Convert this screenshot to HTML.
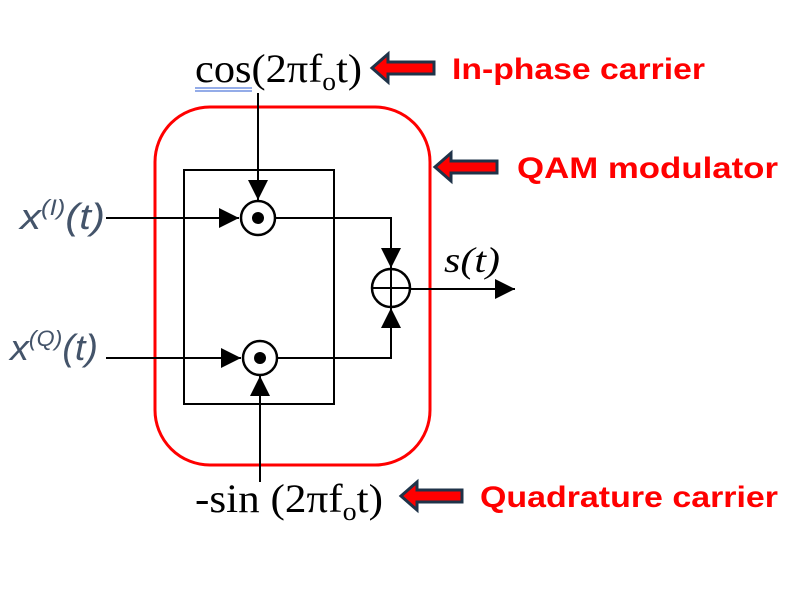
<!DOCTYPE html>
<html><head><meta charset="utf-8"><style>
html,body{margin:0;padding:0;background:#fff;}
svg{display:block;}
</style></head><body>
<svg width="811" height="614" viewBox="0 0 811 614" xmlns="http://www.w3.org/2000/svg">
<defs>
<marker id="ah" viewBox="0 0 10 10" refX="10" refY="5" markerWidth="20" markerHeight="20" markerUnits="userSpaceOnUse" orient="auto"><path d="M0,0 L10,5 L0,10 Z" fill="#000"/></marker>
</defs>
<rect x="155" y="107" width="275" height="358" rx="55" fill="none" stroke="#ff0000" stroke-width="3"/>
<rect x="184" y="170" width="150" height="234" fill="none" stroke="#000" stroke-width="2"/>
<line x1="106" y1="218" x2="239" y2="218" stroke="#000" stroke-width="2" marker-end="url(#ah)"/>
<line x1="106" y1="358" x2="241" y2="358" stroke="#000" stroke-width="2" marker-end="url(#ah)"/>
<line x1="258" y1="93" x2="258" y2="200" stroke="#000" stroke-width="2" marker-end="url(#ah)"/>
<line x1="260" y1="482" x2="260" y2="376" stroke="#000" stroke-width="2" marker-end="url(#ah)"/>
<polyline points="275,218 391,218 391,268" fill="none" stroke="#000" stroke-width="2" marker-end="url(#ah)"/>
<polyline points="277,358 391,358 391,308" fill="none" stroke="#000" stroke-width="2" marker-end="url(#ah)"/>
<line x1="410" y1="289" x2="515" y2="289" stroke="#000" stroke-width="2" marker-end="url(#ah)"/>
<circle cx="258" cy="218" r="17" fill="#fff" stroke="#000" stroke-width="2.5"/>
<circle cx="258" cy="218" r="6" fill="#000"/>
<circle cx="260" cy="358" r="17" fill="#fff" stroke="#000" stroke-width="2.5"/>
<circle cx="260" cy="358" r="6" fill="#000"/>
<circle cx="391" cy="288" r="19" fill="#fff" stroke="#000" stroke-width="2.5"/>
<line x1="372" y1="288" x2="410" y2="288" stroke="#000" stroke-width="2"/>
<line x1="391" y1="269" x2="391" y2="307" stroke="#000" stroke-width="2"/>
<g fill="#ff0000" stroke="#1f3349" stroke-width="3">
<path d="M372,68 L388,54 L388,62 L434,62 L434,74 L388,74 L388,82 Z"/>
<path d="M435,167 L451,153 L451,161 L497,161 L497,173 L451,173 L451,181 Z"/>
<path d="M401,496 L417,482 L417,490 L462,490 L462,502 L417,502 L417,510 Z"/>
</g>
<g font-family="Liberation Serif, serif" font-size="40" fill="#000">
<text x="195" y="82" textLength="167" lengthAdjust="spacingAndGlyphs">cos(2πf<tspan font-size="26" dy="8">o</tspan><tspan dy="-8">t)</tspan></text>
<text x="195" y="512" textLength="188" lengthAdjust="spacingAndGlyphs">-sin (2πf<tspan font-size="26" dy="8">o</tspan><tspan dy="-8">t)</tspan></text>
<text x="444" y="272" font-style="italic" font-size="36" textLength="56" lengthAdjust="spacingAndGlyphs">s(t)</text>
</g>
<line x1="195" y1="88" x2="252" y2="88" stroke="#2a5ad0" stroke-width="1"/>
<line x1="195" y1="91" x2="252" y2="91" stroke="#2a5ad0" stroke-width="1"/>
<g font-family="Liberation Sans, sans-serif" font-style="italic" fill="#44546a">
<text x="20" y="229" font-size="36" textLength="85" lengthAdjust="spacingAndGlyphs">x<tspan font-size="22" dy="-14">(I)</tspan><tspan dy="14">(t)</tspan></text>
<text x="10" y="360" font-size="36" textLength="88" lengthAdjust="spacingAndGlyphs">x<tspan font-size="22" dy="-14">(Q)</tspan><tspan dy="14">(t)</tspan></text>
</g>
<g font-family="Liberation Sans, sans-serif" font-weight="bold" fill="#ff0000" font-size="30">
<text x="452" y="79" textLength="253" lengthAdjust="spacingAndGlyphs">In-phase carrier</text>
<text x="517" y="178" textLength="261" lengthAdjust="spacingAndGlyphs">QAM modulator</text>
<text x="480" y="507" textLength="298" lengthAdjust="spacingAndGlyphs">Quadrature carrier</text>
</g>
</svg>
</body></html>
